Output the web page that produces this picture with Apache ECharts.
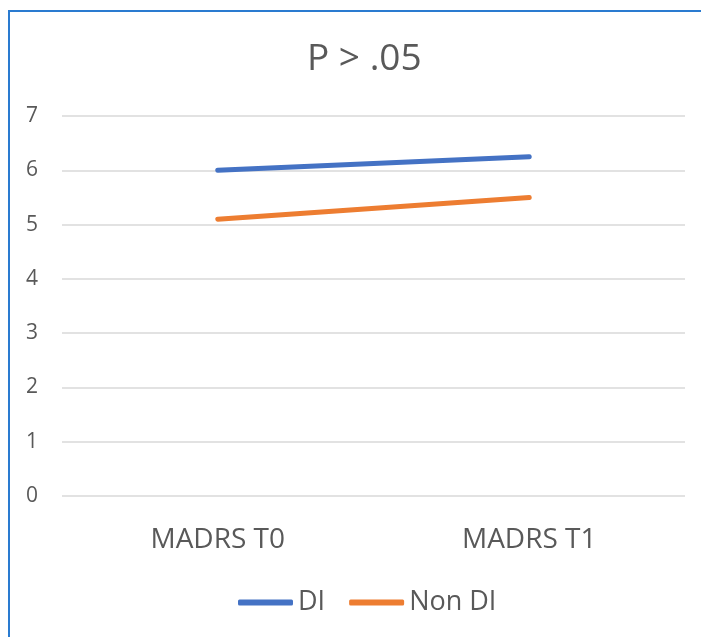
<!DOCTYPE html>
<html>
<head>
<meta charset="utf-8">
<script src="https://cdn.jsdelivr.net/npm/echarts@6/dist/echarts.min.js"></script>
<style>
html,body{margin:0;padding:0;background:#fff;}
#chart{width:701px;height:637px;}
</style>
</head>
<body>
<div id="chart"></div>
<script>
var titleText = 'P > .05';
var categories = ['MADRS T0', 'MADRS T1'];
var seriesNames = ['DI', 'Non DI'];
var diValues = [6.0, 6.25];
var nonDiValues = [5.1, 5.5];
var yTicks = [0, 1, 2, 3, 4, 5, 6, 7];

var chart = echarts.init(document.getElementById('chart'));
var font = "'Open Sans', 'Noto Sans', sans-serif";
chart.setOption({
  animation: false,
  backgroundColor: '#ffffff',
  graphic: [{
    type: 'rect',
    shape: { x: 9, y: 11, width: 760, height: 700 },
    style: { fill: 'none', stroke: '#2a7bd0', lineWidth: 2 },
    silent: true,
    z: -1
  }],
  title: {
    text: titleText,
    left: 302,
    top: 36,
    textStyle: { color: '#595959', fontSize: 37, fontWeight: 'normal', fontFamily: font }
  },
  legend: {
    data: seriesNames,
    top: 584,
    left: 233,
    itemWidth: 55,
    itemHeight: 6,
    itemGap: 24,
    icon: 'roundRect',
    textStyle: { color: '#595959', fontSize: 27, fontFamily: font }
  },
  grid: { left: 62, right: 16, top: 116, bottom: 141 },
  xAxis: {
    type: 'category',
    data: categories,
    boundaryGap: true,
    axisLine: { show: false },
    axisTick: { show: false },
    axisLabel: { color: '#595959', fontSize: 28, fontFamily: font, margin: 30 }
  },
  yAxis: {
    type: 'value',
    min: yTicks[0],
    max: yTicks[yTicks.length - 1],
    interval: 1,
    axisLine: { show: false },
    axisTick: { show: false },
    axisLabel: { color: '#595959', fontSize: 21, fontFamily: font, margin: 24 },
    splitLine: { lineStyle: { color: '#d9d9d9', width: 1.5 } }
  },
  series: [
    {
      name: seriesNames[0],
      type: 'line',
      data: diValues,
      symbol: 'none',
      lineStyle: { color: '#4472c4', width: 5, cap: 'round' },
      itemStyle: { color: '#4472c4' }
    },
    {
      name: seriesNames[1],
      type: 'line',
      data: nonDiValues,
      symbol: 'none',
      lineStyle: { color: '#ed7d31', width: 5, cap: 'round' },
      itemStyle: { color: '#ed7d31' }
    }
  ]
});
</script>
</body>
</html>
